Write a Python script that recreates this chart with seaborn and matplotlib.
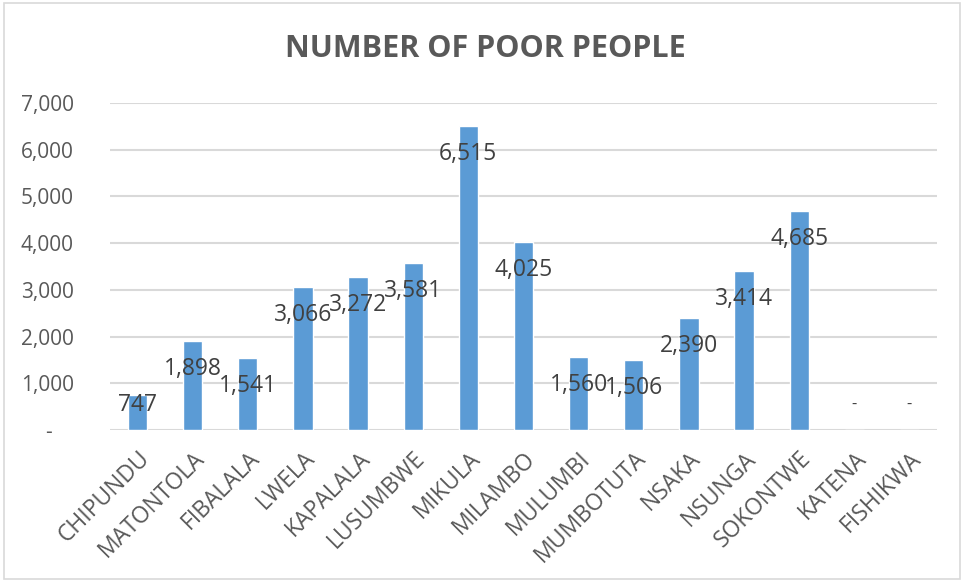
import matplotlib
matplotlib.use("Agg")
import matplotlib.pyplot as plt
import seaborn as sns
import pandas as pd
from matplotlib.patches import Rectangle
from matplotlib.ticker import FuncFormatter

# Number of poor people per area
areas = ["CHIPUNDU", "MATONTOLA", "FIBALALA", "LWELA", "KAPALALA", "LUSUMBWE",
         "MIKULA", "MILAMBO", "MULUMBI", "MUMBOTUTA", "NSAKA", "NSUNGA",
         "SOKONTWE", "KATENA", "FISHIKWA"]
poor_people = [747, 1898, 1541, 3066, 3272, 3581, 6515, 4025, 1560, 1506,
               2390, 3414, 4685, 0, 0]
y_ticks = [0, 1000, 2000, 3000, 4000, 5000, 6000, 7000]
title = "NUMBER OF POOR PEOPLE"

df = pd.DataFrame({"area": areas, "people": poor_people})

sns.set_theme(style="white")
plt.rcParams["font.family"] = ["Open Sans", "DejaVu Sans"]

TEXT = "#595959"
GRID = "#D9D9D9"
BAR = "#5B9BD5"

fig = plt.figure(figsize=(9.64, 5.82), dpi=100)
ax = fig.add_axes([0.114, 0.261, 0.858, 0.562])

sns.barplot(data=df, x="area", y="people", color=BAR, width=0.35,
            saturation=1, ax=ax, zorder=3)

ax.set_ylim(0, 7000)
ax.set_yticks(y_ticks)
ax.yaxis.set_major_formatter(
    FuncFormatter(lambda v, _: "-    " if v == 0 else f"{int(v):,}"))
ax.grid(axis="y", color=GRID, linewidth=1.5, zorder=0)
ax.grid(axis="x", visible=False)
for s in ax.spines.values():
    s.set_visible(False)
ax.tick_params(axis="both", length=0, colors=TEXT)
ax.tick_params(axis="y", labelsize=15, pad=26)
ax.tick_params(axis="x", pad=12)
ax.set_xlabel("")
ax.set_ylabel("")
ax.set_xlim(-0.5, len(areas) - 0.5)

for lbl in ax.get_xticklabels():
    lbl.set_rotation(45)
    lbl.set_ha("right")
    lbl.set_rotation_mode("anchor")
    lbl.set_fontsize(16.5)
    lbl.set_color(TEXT)

# value labels just inside the top of each bar
for i, v in enumerate(poor_people):
    y = max(v - 600, 535)
    txt = "-" if v == 0 else f"{v:,}"
    ax.text(i, y, txt, ha="center", va="center", fontsize=16.5 if v else 12,
            color="#404040", zorder=4)

fig.text(0.503, 0.915, title, ha="center", va="center", fontsize=22,
         fontweight="bold", color=TEXT)

fig.patches.append(Rectangle((0.004, 0.005), 0.992, 0.99, transform=fig.transFigure,
                             fill=False, edgecolor=GRID, linewidth=1.2))

fig.savefig("out.png", dpi=100)
